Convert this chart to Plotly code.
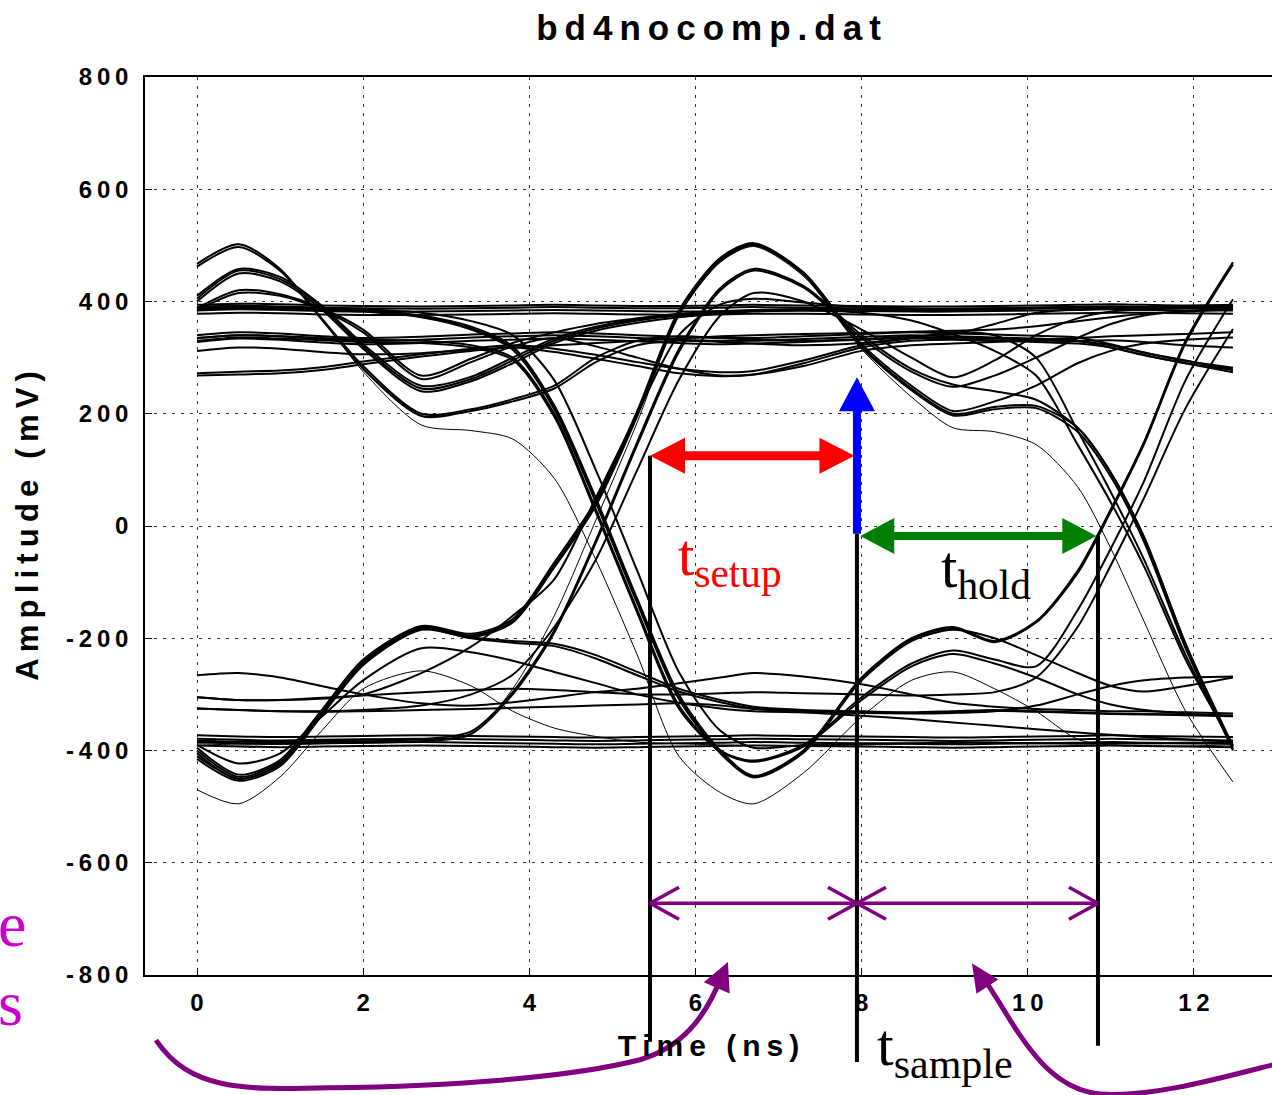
import plotly.graph_objects as go

# ---------------- data (time in ns, amplitude in mV) ----------------
T = [0.0, 0.5, 1.0, 1.5, 2.0, 2.7, 3.3, 3.8, 4.3, 4.8, 5.3, 5.8, 6.3, 6.7,
     7.3, 8.0, 8.6, 9.1, 9.6, 10.1, 10.6, 11.0, 11.4, 11.9, 12.47]

hi_p1_a = [467, 502, 458, 370, 285, 200, 208, 226, 250, 300, 330, 338, 335, 332, 330, 333, 338, 342, 360, 380, 386, 388, 388, 390, 392]
hi_p1_b = [462, 497, 455, 368, 280, 196, 205, 222, 245, 292, 322, 330, 328, 325, 322, 326, 335, 345, 340, 300, 170, 60, -60, -230, -395]
hi_p2_a = [405, 455, 440, 390, 320, 245, 262, 295, 330, 352, 366, 375, 380, 383, 385, 386, 386, 387, 388, 389, 390, 390, 389, 390, 391]
hi_p2_b = [400, 450, 436, 386, 316, 240, 258, 290, 326, 348, 362, 372, 378, 382, 384, 380, 366, 342, 312, 268, 145, 42, -72, -238, -390]
hi_p2_c = [410, 458, 444, 393, 324, 250, 266, 300, 334, 355, 368, 376, 381, 384, 386, 385, 384, 385, 387, 388, 389, 390, 389, 389, 390]
hi_p3_a = [384, 415, 410, 385, 345, 262, 292, 320, 335, 320, 300, 280, 268, 270, 285, 312, 322, 325, 328, 330, 330, 331, 328, 322, 318]
hi_p3_b = [388, 420, 413, 388, 350, 268, 298, 326, 345, 360, 370, 378, 382, 385, 386, 386, 385, 384, 386, 388, 389, 390, 389, 388, 388]
hi_flat_1 = [390, 392, 391, 389, 388, 387, 388, 389, 390, 389, 388, 388, 389, 390, 389, 388, 387, 387, 388, 389, 390, 391, 390, 389, 390]
hi_flat_2 = [384, 386, 385, 383, 382, 382, 383, 384, 385, 384, 383, 382, 383, 384, 384, 383, 382, 382, 383, 384, 385, 386, 385, 384, 384]
hi_flat_3 = [378, 380, 379, 377, 376, 376, 377, 378, 379, 378, 377, 376, 377, 378, 378, 377, 376, 376, 377, 378, 379, 380, 380, 379, 378]
hi_flat_4 = [394, 396, 395, 393, 392, 391, 392, 393, 394, 393, 392, 392, 393, 394, 393, 392, 391, 391, 392, 393, 394, 395, 394, 393, 394]
hi_mid_1 = [335, 340, 338, 333, 330, 332, 336, 338, 340, 338, 335, 332, 330, 330, 333, 337, 340, 338, 336, 334, 330, 318, 304, 290, 274]
hi_mid_2 = [328, 334, 332, 327, 324, 326, 330, 332, 334, 332, 329, 326, 324, 325, 328, 332, 335, 333, 331, 332, 335, 338, 340, 342, 345]
hi_mid_3 = [312, 318, 316, 310, 306, 308, 314, 318, 322, 326, 330, 334, 338, 340, 342, 344, 346, 348, 350, 356, 365, 372, 378, 382, 386]
hi_mid_4 = [340, 345, 343, 338, 335, 337, 341, 343, 345, 343, 340, 337, 335, 335, 338, 342, 345, 343, 341, 339, 336, 324, 309, 295, 279]
hi_low_1 = [268, 270, 272, 278, 288, 302, 312, 318, 310, 298, 285, 272, 267, 270, 290, 318, 330, 332, 330, 328, 325, 318, 305, 290, 278]
hi_low_2 = [272, 275, 277, 283, 293, 306, 316, 322, 316, 305, 292, 280, 274, 276, 295, 322, 334, 336, 334, 332, 329, 322, 309, 294, 282]
fall_a = [390, 392, 390, 388, 385, 375, 355, 320, 215, 50, -130, -300, -400, -445, -400, -270, -200, -180, -205, -170, -80, 30, 150, 330, 470]
fall_a2 = [388, 390, 389, 386, 383, 373, 352, 317, 211, 46, -134, -304, -402, -446, -402, -272, -202, -182, -207, -172, -84, 26, 146, 326, 466]
fall_b = [386, 388, 387, 385, 382, 372, 350, 314, 208, 42, -138, -308, -405, -448, -404, -275, -205, -185, -200, -230, -262, -285, -295, -285, -270]
fall_c = [335, 340, 338, 335, 332, 330, 322, 300, 200, 30, -150, -320, -400, -418, -390, -305, -245, -222, -238, -250, -150, -40, 80, 260, 404]
fall_d = [330, 336, 334, 331, 328, 326, 318, 296, 195, 25, -155, -325, -402, -420, -393, -310, -250, -228, -245, -270, -300, -318, -328, -334, -338]
fall_thin = [467, 502, 458, 370, 275, 180, 170, 155, 85, -60, -230, -410, -475, -495, -440, -340, -275, -260, -290, -330, -380, -390, -392, -392, -390]
fall_e = [390, 393, 390, 388, 386, 380, 365, 340, 260, 100, -80, -260, -365, -395, -390, -388, -387, -386, -386, -387, -388, -388, -387, -386, -385]
rise_a = [-400, -447, -420, -330, -240, -180, -195, -170, -70, 40, 200, 380, 475, 502, 450, 320, 245, 200, 212, 214, 175, 95, -20, -210, -400]
rise_a2 = [-405, -451, -423, -333, -243, -183, -198, -172, -74, 36, 196, 376, 472, 500, 448, 318, 242, 197, 208, 210, 168, 88, -28, -218, -398]
rise_b = [-395, -443, -417, -328, -238, -178, -192, -166, -65, 45, 205, 384, 478, 504, 452, 324, 250, 205, 222, 250, 290, 312, 325, 332, 336]
rise_c = [-385, -387, -386, -385, -384, -383, -370, -300, -190, -30, 145, 310, 420, 455, 425, 335, 275, 248, 268, 300, 335, 360, 375, 383, 388]
rise_d = [-382, -384, -383, -382, -381, -380, -366, -296, -186, -26, 150, 315, 424, 458, 428, 340, 280, 252, 240, 225, 175, 95, -20, -210, -392]
rise_e = [-325, -328, -330, -330, -328, -320, -300, -265, -180, -60, 100, 260, 375, 415, 400, 350, 300, 265, 295, 340, 370, 382, 386, 388, 390]
rise_f = [-305, -310, -310, -306, -300, -262, -215, -160, -95, 50, 200, 340, 395, 405, 398, 390, 388, 386, 386, 388, 390, 391, 390, 389, 388]
rise_thin = [-388, -390, -389, -388, -387, -384, -372, -290, -160, 10, 185, 375, 470, 498, 445, 315, 230, 175, 168, 145, 70, -40, -170, -330, -456]
lo_bump_1 = [-410, -450, -425, -335, -245, -182, -198, -205, -210, -230, -260, -290, -310, -322, -328, -330, -332, -330, -328, -330, -332, -334, -335, -336, -338]
lo_bump_2 = [-390, -423, -405, -340, -275, -218, -225, -240, -260, -280, -300, -315, -325, -330, -332, -333, -334, -333, -330, -320, -300, -285, -275, -270, -268]
lo_bump_3 = [-415, -454, -428, -338, -248, -185, -200, -208, -214, -236, -266, -295, -314, -325, -330, -331, -333, -331, -329, -331, -333, -335, -336, -337, -339]
lo_flat_1 = [-385, -387, -388, -387, -386, -385, -386, -387, -388, -389, -388, -387, -386, -385, -386, -387, -388, -389, -388, -387, -386, -385, -386, -387, -388]
lo_flat_2 = [-379, -381, -382, -381, -380, -379, -380, -381, -382, -383, -382, -381, -380, -379, -380, -381, -382, -383, -382, -381, -380, -379, -380, -381, -382]
lo_flat_3 = [-391, -393, -394, -393, -392, -391, -392, -393, -394, -395, -394, -393, -392, -391, -392, -393, -394, -395, -394, -393, -392, -391, -392, -393, -394]
lo_flat_4 = [-373, -375, -376, -375, -374, -373, -374, -375, -376, -377, -376, -375, -374, -373, -374, -375, -376, -377, -376, -375, -374, -373, -374, -375, -376]
lo_mid_1 = [-325, -328, -330, -331, -330, -328, -326, -324, -322, -320, -318, -316, -320, -326, -332, -338, -344, -350, -356, -362, -368, -372, -376, -380, -384]
lo_mid_2 = [-305, -310, -310, -308, -302, -296, -292, -290, -292, -296, -300, -300, -298, -296, -298, -300, -302, -300, -296, -270, -180, -70, 50, 210, 351]
lo_mid_3 = [-266, -262, -270, -285, -300, -316, -320, -314, -305, -296, -290, -280, -270, -262, -268, -282, -300, -315, -322, -326, -328, -330, -330, -332, -334]
lo_thin = [-470, -495, -447, -365, -290, -258, -285, -330, -360, -375, -385, -388, -390, -391, -392, -390, -388, -387, -386, -386, -386, -387, -388, -388, -388]

X_TICKS = [0, 2, 4, 6, 8, 10, 12]
Y_TICKS = [-800, -600, -400, -200, 0, 200, 400, 600, 800]
TITLE = "bd4nocomp.dat"
X_TITLE = "Time (ns)"
Y_TITLE = "Amplitude (mV)"

# ---------------- figure ----------------
W, H = 1272, 1095
ML, MR, MT, MB = 145, 0, 77, 120
X0, X1 = -0.626, 12.94
Y0, Y1 = -800, 800
SX = (W - ML - MR) / (X1 - X0)
SY = (H - MT - MB) / (Y1 - Y0)

def sp(s):
    return "\u2009".join(s)

thick = [hi_p1_a, hi_p1_b, hi_p2_a, hi_p2_b, hi_p2_c, hi_p3_a, hi_p3_b, hi_flat_1, hi_flat_2, hi_flat_3,
         hi_flat_4, hi_mid_1, hi_mid_2, hi_mid_3, hi_mid_4, hi_low_1, hi_low_2, fall_a, fall_a2, fall_b,
         fall_c, fall_d, fall_e, rise_a, rise_a2, rise_b, rise_c, rise_d, rise_e, rise_f, lo_bump_1,
         lo_bump_2, lo_bump_3, lo_flat_1, lo_flat_2, lo_flat_3, lo_flat_4, lo_mid_1, lo_mid_2, lo_mid_3]
thin = [fall_thin, rise_thin, lo_thin]

fig = go.Figure()
for ys in thick:
    fig.add_trace(go.Scatter(x=T, y=ys, mode="lines", line=dict(color="black", width=2.0, shape="spline", smoothing=0.8),
                             showlegend=False, hoverinfo="skip"))
for ys in thin:
    fig.add_trace(go.Scatter(x=T, y=ys, mode="lines", line=dict(color="black", width=1.0, shape="spline", smoothing=0.8),
                             showlegend=False, hoverinfo="skip"))

def P(x, y):
    return (x - X0) / (X1 - X0), (y - Y0) / (Y1 - Y0)

def tri(tip, ux, uy, L, Wd):
    x, y = tip
    bx, by = x - ux * L / SX, y - uy * L / SY
    c1 = (bx - uy * Wd / SX, by + ux * Wd / SY)
    c2 = (bx + uy * Wd / SX, by - ux * Wd / SY)
    pts = [P(*tip), P(*c1), P(*c2)]
    return "M {:.5f},{:.5f} L {:.5f},{:.5f} L {:.5f},{:.5f} Z".format(*pts[0], *pts[1], *pts[2])

shapes = []
def line(xa, ya, xb, yb, color, width):
    a, b = P(xa, ya), P(xb, yb)
    shapes.append(dict(type="line", xref="paper", yref="paper", x0=a[0], y0=a[1], x1=b[0], y1=b[1],
                       line=dict(color=color, width=width)))
def head(tip, ux, uy, L, Wd, color):
    shapes.append(dict(type="path", xref="paper", yref="paper", path=tri(tip, ux, uy, L, Wd),
                       fillcolor=color, line=dict(color=color, width=0)))
def curve(pts, color, width):
    q = [P(*p) for p in pts]
    s = "M {:.5f},{:.5f}".format(*q[0])
    for i in range(1, len(q), 3):
        s += " C {:.5f},{:.5f} {:.5f},{:.5f} {:.5f},{:.5f}".format(*q[i], *q[i + 1], *q[i + 2])
    shapes.append(dict(type="path", xref="paper", yref="paper", path=s, line=dict(color=color, width=width)))

# marker positions (ns)
t_a, t_b, t_c = 5.453, 7.944, 10.845

# black vertical lines
line(t_a, 125, t_a, -919, "black", 4)
line(t_b, -14, t_b, -955, "black", 4)
line(t_c, -18, t_c, -926, "black", 4)

# red setup arrow
RED = "#ff0000"
line(t_a + 30 / SX, 125, t_b - 30 / SX, 125, RED, 9)
head((t_a, 125), -1, 0, 35, 18, RED)
head((t_b - 0.03, 125), 1, 0, 35, 18, RED)

# blue arrow
BLUE = "#0000ff"
line(t_b, -14, t_b, 265 - 30 / SY, BLUE, 8)
head((t_b, 265), 0, 1, 34, 18, BLUE)

# green hold arrow
GREEN = "#008000"
line(t_b + 0.3, -18, t_c - 0.3, -18, GREEN, 8)
head((t_b + 0.04, -18), -1, 0, 34, 18, GREEN)
head((t_c - 0.02, -18), 1, 0, 34, 18, GREEN)

# purple sample arrows
PURP = "#800080"
line(t_a, -672, t_c, -672, PURP, 3.5)
for tx, d in [(t_a, 1), (t_b, -1), (t_b, 1), (t_c, -1)]:
    for s in (1, -1):
        line(tx, -672, tx + d * 29 / SX, -672 + s * 16 / SY, PURP, 3.5)

# purple curved arrows
curve([(-0.494, -916), (-0.084, -1005), (0.518, -1005), (1.601, -1001), (3.045, -998), (4.490, -983),
       (5.332, -951), (5.814, -930), (6.115, -880), (6.319, -800)], PURP, 5)
head((6.391, -777), 0.40, 0.92, 28, 14, PURP)
curve([(12.975, -959), (12.313, -984), (11.471, -1019), (10.869, -1012), (10.388, -1005), (10.087, -951),
       (9.786, -880), (9.605, -836), (9.485, -809), (9.401, -791)], PURP, 5)
head((9.328, -779), -0.55, 0.835, 28, 13, PURP)

SERIF = "Liberation Serif"
anns = []
def text(x, y, s, color, size, xanchor="left", yanchor="middle"):
    px, py = P(x, y)
    anns.append(dict(x=px, y=py, xref="paper", yref="paper", text=s, showarrow=False, xanchor=xanchor,
                     yanchor=yanchor, font=dict(family=SERIF, size=size, color=color)))

text(5.76, -58, "t<sub>setup</sub>", RED, 59)
text(8.93, -80, "t<sub>hold</sub>", "black", 59)
text(8.16, -932, "t<sub>sample</sub>", "black", 60)
text(-2.42, -710, "e", "#cc00cc", 64)
text(-2.42, -850, "s", "#cc00cc", 64)

SANS = "Liberation Sans"
axis_common = dict(showgrid=True, gridcolor="#333333", gridwidth=1, griddash="3px,6px", zeroline=False,
                   showline=True, linecolor="black", linewidth=1.5, ticks="inside", ticklen=7,
                   tickcolor="black", tickfont=dict(family=SANS, size=24, color="black", weight="bold"))

fig.update_layout(
    width=W, height=H, margin=dict(l=ML, r=MR, t=MT, b=MB),
    paper_bgcolor="white", plot_bgcolor="white",
    title=dict(text=sp(TITLE), x=0.5, xanchor="center", xref="paper", y=1 - 28 / H, yref="container",
               yanchor="middle", font=dict(family=SANS, size=35, color="black", weight="bold")),
    xaxis=dict(range=[X0, X1], tickvals=X_TICKS, ticktext=[sp(str(v)) for v in X_TICKS], mirror=True,
               ticklabelstandoff=5,
               title=dict(text=sp(X_TITLE), font=dict(family=SANS, size=30, color="black", weight="bold"),
                          standoff=20),
               **axis_common),
    yaxis=dict(range=[Y0, Y1], tickvals=Y_TICKS, ticktext=[sp(str(v)) for v in Y_TICKS], mirror=False,
               ticklabelstandoff=10,
               title=dict(text=sp(Y_TITLE), font=dict(family=SANS, size=31, color="black", weight="bold"),
                          standoff=18),
               **axis_common),
    shapes=shapes, annotations=anns,
)

fig.write_html("out.html", config={"displayModeBar": False},
               post_script="document.body.style.margin='0';")
